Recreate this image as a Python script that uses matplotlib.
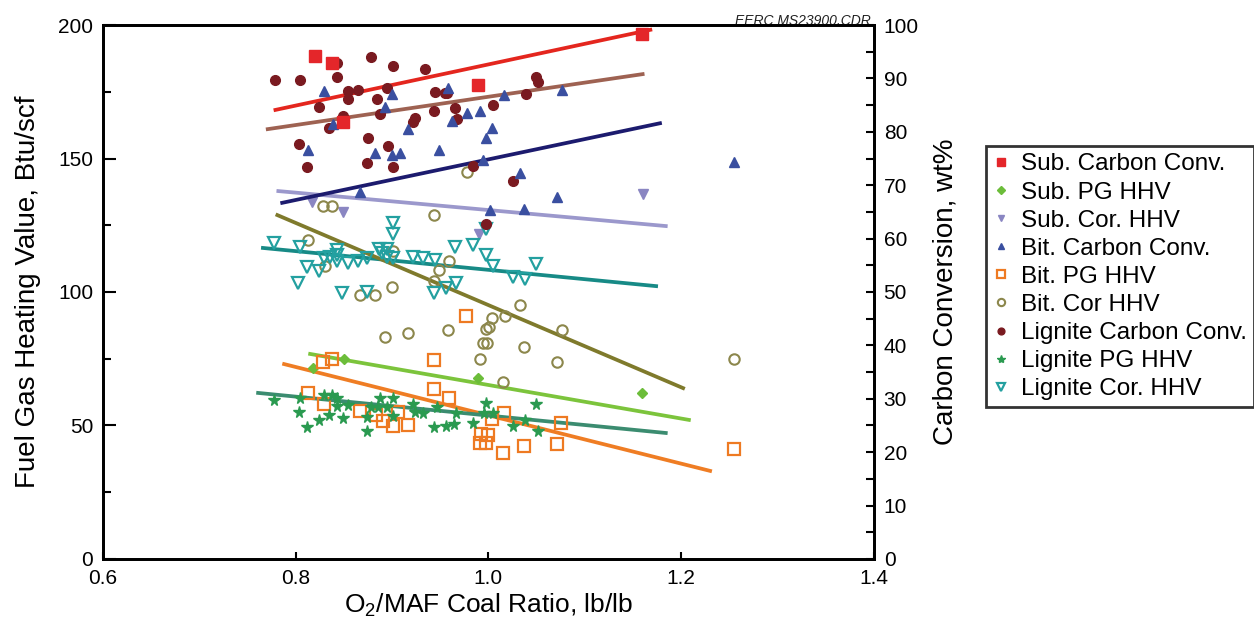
import matplotlib
matplotlib.use('Agg')
import matplotlib.pyplot as plt
from matplotlib.ticker import MultipleLocator

plt.rcParams['font.family'] = ['Liberation Sans', 'DejaVu Sans']
plt.rcParams['mathtext.default'] = 'regular'

# ---------------- data ----------------
# Carbon conversion series (right axis, wt%)
sub_cc_x = [0.820, 0.838, 0.849, 0.989, 1.159]
sub_cc_y = [94.2, 92.9, 81.8, 88.8, 98.3]

bit_cc_x = [0.829, 0.900, 0.893, 0.839, 0.917, 0.958, 0.962, 0.978, 0.991, 1.016,
            1.076, 1.004, 0.997, 0.813, 0.882, 0.900, 0.908, 0.949, 0.867, 1.033,
            1.071, 0.994, 1.037, 1.255, 1.002]
bit_cc_y = [87.6, 87.1, 84.6, 81.5, 80.5, 88.2, 82.0, 83.5, 83.9, 86.9,
            87.8, 80.7, 78.8, 76.6, 76.0, 75.7, 76.0, 76.6, 68.7, 72.3,
            67.8, 74.7, 65.5, 74.3, 65.4]

lig_cc_x = [0.779, 0.804, 0.843, 0.878, 0.901, 0.934, 0.854, 0.865, 0.895, 0.854,
            0.824, 0.884, 0.888, 0.849, 0.835, 0.945, 0.955, 0.922, 0.924, 0.943,
            0.803, 0.875, 0.896, 0.843, 0.957, 0.965, 0.967, 1.005, 1.039, 1.049,
            1.051, 0.812, 0.874, 0.901, 0.984, 1.025, 0.997]
lig_cc_y = [89.7, 89.7, 90.3, 94.0, 92.3, 91.8, 87.6, 87.8, 88.2, 86.1,
            84.6, 86.1, 83.3, 83.0, 80.7, 87.5, 87.3, 81.8, 82.6, 83.9,
            77.7, 78.8, 77.3, 92.9, 87.3, 84.5, 82.4, 85.0, 87.1, 90.3,
            89.3, 73.4, 74.2, 73.4, 73.6, 70.8, 62.7]

# Heating value series (left axis, Btu/scf)
sub_pg_x = [0.818, 0.850, 0.989, 1.159]
sub_pg_y = [71.5, 74.9, 67.8, 62.2]

sub_cor_x = [0.817, 0.849, 1.160, 0.990]
sub_cor_y = [133.7, 130.0, 136.7, 121.7]

bit_pg_x = [0.828, 0.838, 0.813, 0.829, 0.867, 0.883, 0.891, 0.901, 0.906, 0.917,
            0.943, 0.943, 0.959, 0.977, 1.016, 1.004, 0.992, 1.000, 0.991, 0.997,
            1.015, 1.037, 1.071, 1.075, 1.255]
bit_pg_y = [73.8, 74.9, 62.2, 58.1, 55.4, 53.9, 51.7, 49.8, 55.1, 50.2,
            74.5, 63.7, 60.3, 91.0, 54.7, 52.4, 46.8, 46.4, 43.4, 43.4,
            39.7, 42.3, 43.1, 50.9, 41.2]

bit_cor_x = [0.828, 0.838, 0.813, 0.830, 0.901, 0.944, 0.959, 0.949, 0.943, 0.900,
             0.867, 0.882, 0.978, 0.893, 0.917, 0.958, 1.033, 1.004, 1.017, 0.997,
             1.001, 0.994, 0.998, 1.076, 1.037, 0.991, 1.071, 1.015, 1.255]
bit_cor_y = [132.2, 132.2, 119.5, 109.7, 115.4, 128.8, 111.6, 108.2, 104.1, 101.9,
             98.9, 98.9, 144.9, 83.1, 84.6, 85.8, 95.1, 90.3, 91.0, 86.1,
             86.9, 80.9, 80.9, 85.8, 79.4, 74.9, 73.8, 66.3, 74.9]

lig_pg_x = [0.778, 0.803, 0.804, 0.812, 0.824, 0.835, 0.829, 0.838, 0.843, 0.843,
            0.849, 0.854, 0.874, 0.874, 0.878, 0.888, 0.901, 0.901, 0.895, 0.922,
            0.924, 0.932, 0.943, 0.956, 0.964, 0.947, 0.885, 0.966, 0.984, 0.997,
            1.005, 0.995, 1.025, 1.049, 1.051, 1.038]
lig_pg_y = [59.6, 55.1, 60.3, 49.4, 52.1, 53.9, 61.4, 61.4, 60.3, 57.3,
            52.8, 57.7, 53.2, 47.9, 56.9, 60.3, 60.3, 53.6, 56.9, 58.1,
            55.1, 54.7, 49.4, 49.8, 50.6, 56.9, 56.9, 54.7, 50.9, 58.4,
            54.7, 54.7, 49.8, 58.1, 47.9, 52.1]

lig_cor_x = [0.778, 0.804, 0.812, 0.824, 0.802, 0.829, 0.843, 0.843, 0.854, 0.865,
             0.874, 0.886, 0.895, 0.890, 0.901, 0.901, 0.895, 0.901, 0.922, 0.932,
             0.945, 0.965, 0.966, 0.943, 0.848, 0.874, 0.956, 0.836, 0.843, 0.984,
             0.997, 0.997, 1.005, 1.025, 1.038, 1.049]
lig_cor_y = [118.4, 116.9, 109.4, 107.9, 103.4, 112.7, 115.7, 111.6, 110.9, 111.6,
             112.7, 116.1, 116.1, 114.6, 125.8, 121.7, 113.1, 112.7, 113.1, 112.7,
             112.0, 116.9, 103.4, 99.6, 99.6, 100.0, 101.5, 113.1, 113.9, 117.6,
             123.6, 113.9, 109.7, 105.6, 104.9, 110.5]

# Trend lines (end points)
sub_cc_fit_x, sub_cc_fit_y = [0.779, 1.168], [84.1, 99.1]
lig_cc_fit_x, lig_cc_fit_y = [0.771, 1.160], [80.5, 90.8]
bit_cc_fit_x, bit_cc_fit_y = [0.786, 1.178], [66.7, 81.6]
sub_cor_fit_x, sub_cor_fit_y = [0.782, 1.184], [137.8, 124.7]
sub_pg_fit_x, sub_pg_fit_y = [0.815, 1.208], [76.8, 52.1]
bit_pg_fit_x, bit_pg_fit_y = [0.788, 1.230], [73.0, 33.0]
bit_cor_fit_x, bit_cor_fit_y = [0.781, 1.202], [128.8, 64.0]
lig_cor_fit_x, lig_cor_fit_y = [0.766, 1.174], [116.5, 102.2]
lig_pg_fit_x, lig_pg_fit_y = [0.761, 1.184], [62.2, 47.2]

labels = ['Sub. Carbon Conv.', 'Sub. PG HHV', 'Sub. Cor. HHV', 'Bit. Carbon Conv.',
          'Bit. PG HHV', 'Bit. Cor HHV', 'Lignite Carbon Conv.', 'Lignite PG HHV',
          'Lignite Cor. HHV']

x_ticks = [0.6, 0.8, 1.0, 1.2, 1.4]
x_ticklabels = ['0.6', '0.8', '1.0', '1.2', '1.4']
left_ticks = [0, 50, 100, 150, 200]
right_ticks = [0, 10, 20, 30, 40, 50, 60, 70, 80, 90, 100]

# ---------------- figure ----------------
fig = plt.figure(figsize=(12.54, 6.22), dpi=100)
ax = fig.add_axes([0.0821, 0.1013, 0.6148, 0.8585])
ax2 = ax.twinx()

LW = 2.7
# left-axis series
ax.plot(sub_cor_fit_x, sub_cor_fit_y, color='#9b98cc', lw=LW, zorder=2)
ax.plot(lig_cor_fit_x, lig_cor_fit_y, color='#178a86', lw=LW, zorder=2)
ax.plot(bit_cor_fit_x, bit_cor_fit_y, color='#7f7a2c', lw=LW, zorder=2)
ax.plot(sub_pg_fit_x, sub_pg_fit_y, color='#7cc43c', lw=LW, zorder=2)
ax.plot(bit_pg_fit_x, bit_pg_fit_y, color='#ef7d24', lw=LW, zorder=2)
ax.plot(lig_pg_fit_x, lig_pg_fit_y, color='#3b8c70', lw=LW, zorder=2)

h_sub_pg, = ax.plot(sub_pg_x, sub_pg_y, 'D', ls='none', color='#6cbd3a', ms=5.5, zorder=3)
h_sub_cor, = ax.plot(sub_cor_x, sub_cor_y, 'v', ls='none', color='#8a86c2', ms=7, zorder=3)
h_bit_pg, = ax.plot(bit_pg_x, bit_pg_y, 's', ls='none', mfc='none', mec='#ee7a22', mew=1.6, ms=8.5, zorder=3)
h_bit_cor, = ax.plot(bit_cor_x, bit_cor_y, 'o', ls='none', mfc='none', mec='#8c874c', mew=1.5, ms=7.5, zorder=3)
h_lig_pg, = ax.plot(lig_pg_x, lig_pg_y, '*', ls='none', color='#2a9a50', ms=8.5, zorder=3)
h_lig_cor, = ax.plot(lig_cor_x, lig_cor_y, 'v', ls='none', mfc='none', mec='#23a0a0', mew=1.6, ms=8, zorder=3)

# right-axis series
h_lig_cc, = ax2.plot(lig_cc_x, lig_cc_y, 'o', ls='none', color='#7a1a20', ms=7, zorder=3)
h_bit_cc, = ax2.plot(bit_cc_x, bit_cc_y, '^', ls='none', color='#3a4fa0', ms=7, zorder=3)
h_sub_cc, = ax2.plot(sub_cc_x, sub_cc_y, 's', ls='none', color='#e4262a', ms=8.5, zorder=3)
ax2.plot(sub_cc_fit_x, sub_cc_fit_y, color='#e4261e', lw=LW, zorder=2)
ax2.plot(lig_cc_fit_x, lig_cc_fit_y, color='#9e6252', lw=LW, zorder=2)
ax2.plot(bit_cc_fit_x, bit_cc_fit_y, color='#1c1b6e', lw=LW, zorder=2)

# axes setup
ax.set_xlim(0.6, 1.4)
ax.set_ylim(0, 200)
ax2.set_ylim(0, 100)
ax.set_xticks(x_ticks)
ax.set_xticklabels(x_ticklabels)
ax.set_yticks(left_ticks)
ax.yaxis.set_minor_locator(MultipleLocator(25))
ax2.set_yticks(right_ticks)
ax2.yaxis.set_minor_locator(MultipleLocator(5))

for a in (ax, ax2):
    for s in a.spines.values():
        s.set_linewidth(2.0)
        s.set_color('black')

ax.tick_params(axis='x', which='both', direction='in', length=5, width=1.5,
               labelsize=15, pad=7, top=False)
ax.tick_params(axis='y', which='major', direction='in', length=9, width=1.5,
               labelsize=15, pad=7, right=False)
ax.tick_params(axis='y', which='minor', direction='in', length=6, width=1.5, right=False)
ax2.tick_params(axis='y', which='major', direction='in', length=6, width=1.5,
                labelsize=15, pad=7)
ax2.tick_params(axis='y', which='minor', direction='in', length=6, width=1.5)

ax.set_xlabel(r'O$_2$/MAF Coal Ratio, lb/lb', fontsize=19)
ax.xaxis.set_label_coords(0.5, -0.062)
ax.set_ylabel('Fuel Gas Heating Value, Btu/scf', fontsize=20)
ax.yaxis.set_label_coords(-0.080, 0.5)
ax2.set_ylabel('Carbon Conversion, wt%', fontsize=20)
ax2.yaxis.set_label_coords(1.0765, 0.5)

ax.text(0.996, 1.0, 'EERC MS23900.CDR', transform=ax.transAxes, ha='right',
        va='baseline', fontsize=10, style='italic', color='#222222')

handles = [h_sub_cc, h_sub_pg, h_sub_cor, h_bit_cc, h_bit_pg, h_bit_cor,
           h_lig_cc, h_lig_pg, h_lig_cor]
leg = fig.legend(handles, labels, loc='upper left', bbox_to_anchor=(0.786, 0.765),
                 fontsize=17.5, frameon=True, fancybox=False, markerscale=0.7,
                 handlelength=0.7, handletextpad=0.45, labelspacing=0.25,
                 borderpad=0.3, borderaxespad=0)
leg.get_frame().set_edgecolor('black')
leg.get_frame().set_linewidth(2.0)

fig.savefig('out.png', dpi=100)
